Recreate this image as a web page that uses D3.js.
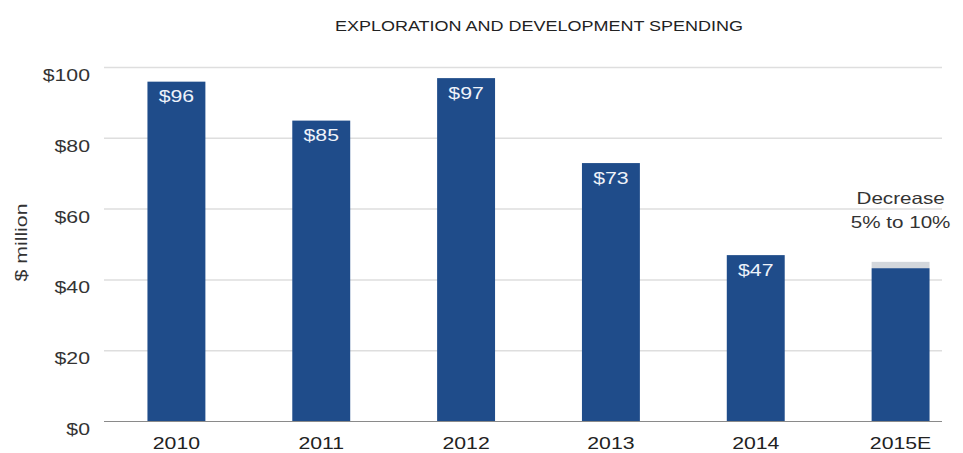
<!DOCTYPE html>
<html>
<head>
<meta charset="utf-8">
<script src="https://cdn.jsdelivr.net/npm/d3@7"></script>
<style>
  html, body { margin: 0; padding: 0; background: #ffffff; }
  svg { display: block; }
  text { font-family: "Liberation Sans", Helvetica, Arial, sans-serif; }
</style>
</head>
<body>
<svg id="chart" width="963" height="453"></svg>
<script>
// Exploration and development spending, $ million
const years = ["2010", "2011", "2012", "2013", "2014", "2015E"];
const spending = [96, 85, 97, 73, 47, null];
const valueLabels = ["$96", "$85", "$97", "$73", "$47", ""];
// 2015 estimate: solid part and the upper end of the range
const estimateLow = 43.3;
const estimateHigh = 45.1;
const yTicks = [0, 20, 40, 60, 80, 100];
const title = "EXPLORATION AND DEVELOPMENT SPENDING";
const yTitle = "$ million";
const note = ["Decrease", "5% to 10%"];

const svg = d3.select("#chart");
const plot = { left: 104, right: 942, top: 67.5, bottom: 421.5 };
const STRETCH = 1.25; // wide letterforms

const x = d3.scaleBand()
  .domain(years)
  .range([plot.left, plot.left + 869])
  .paddingInner(0.6)
  .paddingOuter(0.3);

const y = d3.scaleLinear()
  .domain([0, 100])
  .range([plot.bottom, plot.top]);

const blue = "#1f4c8a";

// horizontally widened text helper
function wideText(g, tx, ty, str, opts) {
  return g.append("text")
    .attr("transform", `translate(${tx},${ty}) scale(${STRETCH},1)`)
    .attr("text-anchor", opts.anchor || "middle")
    .attr("font-size", opts.size)
    .attr("fill", opts.fill)
    .text(str);
}

// gridlines
svg.append("g").selectAll("line")
  .data(yTicks.filter(d => d > 0))
  .join("line")
  .attr("x1", plot.left).attr("x2", plot.right)
  .attr("y1", d => y(d)).attr("y2", d => y(d))
  .attr("stroke", "#dedede")
  .attr("stroke-width", 1.5);

// y-axis tick labels, hanging just below each gridline
const yAxis = svg.append("g")
  .attr("transform", "translate(90,0)")
  .call(d3.axisLeft(y).tickValues(yTicks).tickSize(0).tickPadding(0).tickFormat(d => "$" + d));
yAxis.select(".domain").remove();
yAxis.selectAll("text")
  .attr("font-size", 17)
  .attr("fill", "#333")
  .attr("dy", "0.77em")
  .attr("x", 0)
  .attr("text-anchor", "end")
  .attr("transform", `scale(${STRETCH},1)`);

// bars
const bars = svg.append("g");
bars.selectAll("rect.actual")
  .data(years.map((yr, i) => ({ yr, v: spending[i] })).filter(d => d.v != null))
  .join("rect")
  .attr("class", "actual")
  .attr("x", d => x(d.yr))
  .attr("width", x.bandwidth())
  .attr("y", d => y(d.v))
  .attr("height", d => y(0) - y(d.v))
  .attr("fill", blue);

// 2015 estimate: range cap above the solid bar
const estYear = years[years.length - 1];
bars.append("rect")
  .attr("x", x(estYear))
  .attr("width", x.bandwidth())
  .attr("y", y(estimateHigh))
  .attr("height", y(estimateLow) - y(estimateHigh))
  .attr("fill", "#d3d7dc");
bars.append("rect")
  .attr("x", x(estYear))
  .attr("width", x.bandwidth())
  .attr("y", y(estimateLow))
  .attr("height", y(0) - y(estimateLow))
  .attr("fill", blue);

// baseline
svg.append("line")
  .attr("x1", plot.left).attr("x2", plot.right)
  .attr("y1", y(0)).attr("y2", y(0))
  .attr("stroke", "#8a8a8a")
  .attr("stroke-width", 1.2);

// value labels inside the bar tops
const labels = svg.append("g");
years.forEach((yr, i) => {
  if (spending[i] == null) return;
  wideText(labels, x(yr) + x.bandwidth() / 2, y(spending[i]) + 20.5, valueLabels[i],
    { size: 17, fill: "#eef3fa" });
});

// x-axis labels
const xl = svg.append("g");
years.forEach(yr => {
  wideText(xl, x(yr) + x.bandwidth() / 2, 449, yr, { size: 17, fill: "#222" });
});

// estimate note
wideText(svg, x(estYear) + x.bandwidth() / 2, 204, note[0], { size: 16.5, fill: "#333" });
wideText(svg, x(estYear) + x.bandwidth() / 2, 227.5, note[1], { size: 16.5, fill: "#333" });

// title
wideText(svg, 539, 31, title, { size: 14.4, fill: "#222" });

// y-axis title
svg.append("text")
  .attr("transform", `translate(27,242.5) rotate(-90) scale(${STRETCH},1)`)
  .attr("text-anchor", "middle")
  .attr("font-size", 17)
  .attr("fill", "#333")
  .text(yTitle);
</script>
</body>
</html>
